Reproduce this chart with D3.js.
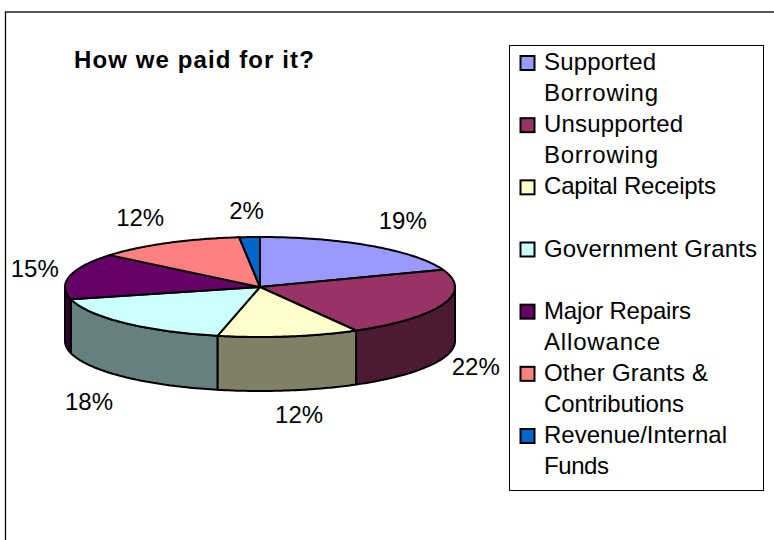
<!DOCTYPE html>
<html>
<head>
<meta charset="utf-8">
<script src="https://cdn.jsdelivr.net/npm/d3@7"></script>
<style>
  html, body { margin: 0; padding: 0; background: #fff; overflow: hidden; }
  svg { display: block; }
  text { font-family: "Liberation Sans", Arial, sans-serif; fill: #000; }
</style>
</head>
<body>
<svg id="chart" width="774" height="540"></svg>
<script>
var categories = [
    ['Supported', 'Borrowing'],
    ['Unsupported', 'Borrowing'],
    ['Capital Receipts'],
    ['Government Grants'],
    ['Major Repairs', 'Allowance'],
    ['Other Grants &', 'Contributions'],
    ['Revenue/Internal', 'Funds']
];
// labels show whole percents, slices are drawn from the unrounded estimate
var shares = [19.4, 22.4, 11.7, 17.6, 14.9, 12.3, 1.7];
var topColors = ['#9999ff', '#993366', '#ffffcc', '#ccffff', '#660066', '#ff8080', '#0066cc'];
var wallColors = ['#4d4d80', '#4d1a33', '#808066', '#668080', '#330033', '#804040', '#003366'];

// layout
var cx = 260, cy = 287, rx = 195, ry = 50, depth = 54;
var labelRx = 232, labelRy = 76;
var labelNudge = [[10, -4], [-2, -1], [5, -2], [-9, 6], [1, -2], [-10, -2], [-1, -1]];
var legendWidths = [[112, 114], [139, 114], [172], [213], [147, 116], [164, 140], [183, 65]];

var svg = d3.select('#chart');

svg.append('rect')
    .attr('x', 5.5).attr('y', 12)
    .attr('width', 800).attr('height', 560)
    .attr('fill', '#fff').attr('stroke', '#000').attr('stroke-width', 1.3);

svg.append('text')
    .attr('x', 74).attr('y', 68)
    .attr('font-size', 24).attr('font-weight', 'bold')
    .attr('letter-spacing', 1.1)
    .text('How we paid for it?');

var slices = d3.pie().sort(null).value(function(d) { return d; })(shares);

var px = d3.scaleLinear().domain([-1, 1]).range([cx - rx, cx + rx]);
var py = d3.scaleLinear().domain([-1, 1]).range([cy + ry, cy - ry]);

// pie angle runs clockwise from the top
function arcPoints(a0, a1, lift) {
    return d3.range(0, 61).map(function(i) {
        var a = a0 + (a1 - a0) * i / 60;
        return [px(Math.sin(a)), py(Math.cos(a)) + lift];
    });
}

var line = d3.line();
var pie3d = svg.append('g')
    .attr('stroke', '#000').attr('stroke-width', 2).attr('stroke-linejoin', 'round');

// side walls, only the part facing the viewer
slices.forEach(function(s, i) {
    var a0 = Math.max(s.startAngle, Math.PI / 2);
    var a1 = Math.min(s.endAngle, Math.PI * 1.5);
    if (a1 <= a0) return;
    var upper = arcPoints(a0, a1, 0);
    var lower = arcPoints(a1, a0, depth);
    pie3d.append('path')
        .attr('d', line(upper.concat(lower)) + 'Z')
        .attr('fill', wallColors[i]);
});

// top face
slices.forEach(function(s, i) {
    var pts = [[px(0), py(0)]].concat(arcPoints(s.startAngle, s.endAngle, 0));
    pie3d.append('path')
        .attr('d', line(pts) + 'Z')
        .attr('fill', topColors[i]);
});

// percentage labels
slices.forEach(function(s, i) {
    var mid = (s.startAngle + s.endAngle) / 2;
    var front = Math.cos(mid) < 0 && Math.abs(Math.sin(mid)) < 0.99;
    svg.append('text')
        .attr('x', cx + labelRx * Math.sin(mid) + labelNudge[i][0])
        .attr('y', cy - labelRy * Math.cos(mid) + (front ? depth : 0) + labelNudge[i][1])
        .attr('dy', '0.35em')
        .attr('text-anchor', 'middle')
        .attr('font-size', 24)
        .text(Math.round(s.value) + '%');
});

// legend
var legend = svg.append('g');
legend.append('rect')
    .attr('x', 509.5).attr('y', 45.5)
    .attr('width', 254).attr('height', 445)
    .attr('fill', '#fff').attr('stroke', '#000').attr('stroke-width', 1);

var rowY = d3.scalePoint()
    .domain(d3.range(categories.length))
    .range([70, 443]);

categories.forEach(function(lines, i) {
    var base = rowY(i);
    legend.append('rect')
        .attr('x', 520.5).attr('y', base - 14)
        .attr('width', 14).attr('height', 14)
        .attr('fill', topColors[i])
        .attr('stroke', '#000').attr('stroke-width', 2);
    lines.forEach(function(t, j) {
        legend.append('text')
            .attr('x', 544).attr('y', base + j * 31.3)
            .attr('font-size', 24)
            .attr('textLength', legendWidths[i][j])
            .attr('lengthAdjust', 'spacing')
            .text(t);
    });
});
</script>
</body>
</html>
